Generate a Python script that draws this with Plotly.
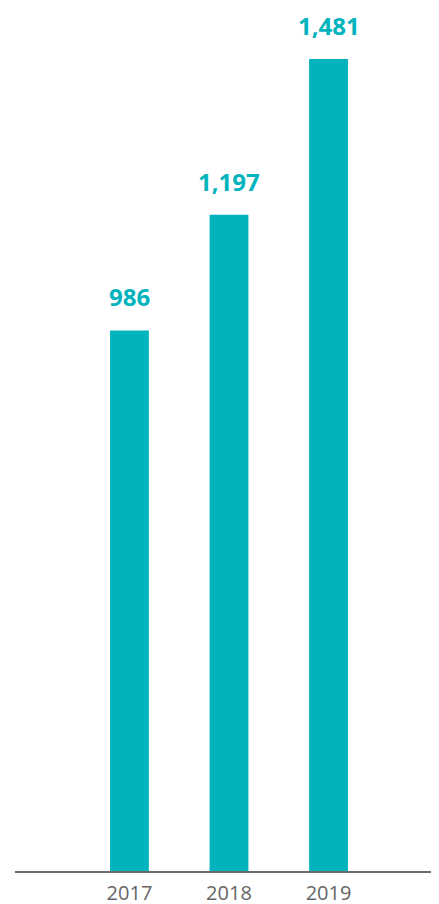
import plotly.graph_objects as go

years = ["2017", "2018", "2019"]
values = [986, 1197, 1481]
labels = ["986", "1,197", "1,481"]

TEAL = "#00B3BD"

fig = go.Figure()
fig.add_trace(go.Bar(
    x=years, y=values, marker=dict(color=TEAL, line=dict(width=0)),
    width=0.39, hoverinfo="skip",
))

for i, (v, lab) in enumerate(zip(values, labels)):
    fig.add_annotation(
        x=i, y=v, xref="x", yref="y", text="<b>" + lab + "</b>", showarrow=False,
        yanchor="bottom", yshift=15,
        font=dict(family="Open Sans", size=24, color=TEAL),
    )

# the page body has an 8px margin, so the figure is drawn 8px in and down
fig.update_layout(
    width=431, height=896,
    margin=dict(l=7, r=0, t=0, b=33),
    paper_bgcolor="white", plot_bgcolor="white",
    showlegend=False,
    xaxis=dict(
        type="category", range=[-1.15, 3.11], automargin=False,
        showline=True, linecolor="#6b6b6b", linewidth=2,
        showgrid=False, zeroline=False, ticks="", ticklabelstandoff=3,
        tickfont=dict(family="Open Sans", size=20, color="#666666"),
    ),
    yaxis=dict(
        range=[0, 1574], visible=False, showgrid=False, zeroline=False,
    ),
)

fig.write_html("out.html")
